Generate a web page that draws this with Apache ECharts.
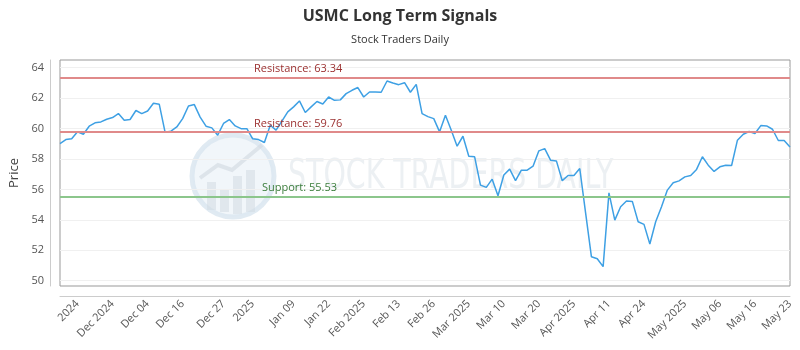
<!DOCTYPE html>
<html>
<head>
<meta charset="utf-8">
<script src="https://cdn.jsdelivr.net/npm/echarts@6/dist/echarts.min.js"></script>
<style>
  html, body { margin: 0; padding: 0; background: #fff; }
  #chart { width: 800px; height: 350px; }
</style>
</head>
<body>
<div id="chart"></div>
<script>
const dates = [
  "2024-11-20","2024-11-21","2024-11-22","2024-11-25","2024-11-26","2024-11-27","2024-11-29",
  "2024-12-02","2024-12-03","2024-12-04","2024-12-05","2024-12-06","2024-12-09","2024-12-10","2024-12-11","2024-12-12","2024-12-13",
  "2024-12-16","2024-12-17","2024-12-18","2024-12-19","2024-12-20","2024-12-23","2024-12-24","2024-12-26","2024-12-27","2024-12-30","2024-12-31",
  "2025-01-02","2025-01-03","2025-01-06","2025-01-07","2025-01-08","2025-01-10","2025-01-13","2025-01-14","2025-01-15","2025-01-16","2025-01-17",
  "2025-01-21","2025-01-22","2025-01-23","2025-01-24","2025-01-27","2025-01-28","2025-01-29","2025-01-30","2025-01-31",
  "2025-02-03","2025-02-04","2025-02-05","2025-02-06","2025-02-07","2025-02-10","2025-02-11","2025-02-12","2025-02-13","2025-02-14",
  "2025-02-18","2025-02-19","2025-02-20","2025-02-21","2025-02-24","2025-02-25","2025-02-26","2025-02-27","2025-02-28",
  "2025-03-03","2025-03-04","2025-03-05","2025-03-06","2025-03-07","2025-03-10","2025-03-11","2025-03-12","2025-03-13","2025-03-14",
  "2025-03-17","2025-03-18","2025-03-19","2025-03-20","2025-03-21","2025-03-24","2025-03-25","2025-03-26","2025-03-27","2025-03-28","2025-03-31",
  "2025-04-01","2025-04-02","2025-04-03","2025-04-04","2025-04-07","2025-04-08","2025-04-09","2025-04-10","2025-04-11",
  "2025-04-14","2025-04-15","2025-04-16","2025-04-17","2025-04-21","2025-04-22","2025-04-23","2025-04-24","2025-04-25",
  "2025-04-28","2025-04-29","2025-04-30","2025-05-01","2025-05-02","2025-05-05","2025-05-06","2025-05-07","2025-05-08","2025-05-09",
  "2025-05-12","2025-05-13","2025-05-14","2025-05-15","2025-05-16","2025-05-19","2025-05-20","2025-05-21","2025-05-22","2025-05-23"
];

const prices = [
  59.01, 59.27, 59.32, 59.78, 59.62, 60.15, 60.37, 60.43, 60.61, 60.72,
  60.98, 60.54, 60.59, 61.18, 60.98, 61.15, 61.66, 61.59, 59.75, 59.82,
  60.10, 60.65, 61.48, 61.57, 60.75, 60.15, 60.04, 59.56, 60.33, 60.59,
  60.17, 59.99, 59.99, 59.32, 59.27, 59.08, 60.21, 59.89, 60.48, 61.09,
  61.42, 61.81, 61.05, 61.42, 61.77, 61.61, 62.07, 61.85, 61.88, 62.29,
  62.51, 62.69, 62.07, 62.40, 62.40, 62.38, 63.12, 62.99, 62.88, 63.01,
  62.38, 62.90, 60.98, 60.78, 60.65, 59.78, 60.87, 59.89, 58.84, 59.49,
  58.18, 58.14, 56.28, 56.13, 56.67, 55.58, 56.94, 57.33, 56.57, 57.26,
  57.26, 57.52, 58.53, 58.68, 57.92, 57.87, 56.57, 56.91, 56.91, 57.37,
  54.45, 51.57, 51.44, 50.92, 55.77, 53.98, 54.86, 55.23, 55.21, 53.87,
  53.70, 52.41, 53.87, 54.86, 55.95, 56.43, 56.56, 56.82, 56.91, 57.31,
  58.14, 57.59, 57.18, 57.48, 57.59, 57.57, 59.23, 59.62, 59.80, 59.67,
  60.19, 60.17, 59.95, 59.21, 59.21, 58.79
];

const tickIndex = [3, 9, 15, 21, 28, 33, 40, 46, 52, 58, 64, 70, 76, 82, 88, 94, 100, 107, 113, 119, 125];
const tickText = ["2024", "Dec 2024", "Dec 04", "Dec 16", "Dec 27", "2025", "Jan 09", "Jan 22", "Feb 2025", "Feb 13",
  "Feb 26", "Mar 2025", "Mar 10", "Mar 20", "Apr 2025", "Apr 11", "Apr 24", "May 2025", "May 06", "May 16", "May 23"];

const yTicks = [50, 52, 54, 56, 58, 60, 62, 64];
const resistanceHigh = 63.34;
const resistanceLow = 59.76;
const support = 55.53;

const chart = echarts.init(document.getElementById('chart'), null, { renderer: 'canvas' });
const FONT = 'Open Sans';

const option = {
  animation: false,
  backgroundColor: '#ffffff',
  title: {
    text: 'USMC Long Term Signals',
    subtext: 'Stock Traders Daily',
    left: 'center',
    top: 3,
    itemGap: 10,
    textStyle: { fontFamily: FONT, fontSize: 16, fontWeight: 'bold', color: '#333333' },
    subtextStyle: { fontFamily: FONT, fontSize: 11, color: '#333333' }
  },
  grid: {
    left: 60, right: 10, top: 60, bottom: 64,
    outerBoundsMode: 'none',
    containLabel: false,
    show: true, borderColor: '#999999', borderWidth: 1, backgroundColor: 'transparent'
  },
  graphic: [
    {
      type: 'group', z: 0, silent: true,
      children: [
        { type: 'circle', shape: { cx: 233, cy: 176, r: 41 },
          style: { fill: 'rgba(228,238,245,0.5)', stroke: 'rgba(218,230,240,0.85)', lineWidth: 5 } },
        { type: 'rect', shape: { x: 207, y: 182, width: 9, height: 28 }, style: { fill: 'rgba(210,218,226,0.55)' } },
        { type: 'rect', shape: { x: 220, y: 190, width: 9, height: 22 }, style: { fill: 'rgba(210,218,226,0.55)' } },
        { type: 'rect', shape: { x: 233, y: 176, width: 9, height: 38 }, style: { fill: 'rgba(210,218,226,0.55)' } },
        { type: 'rect', shape: { x: 246, y: 170, width: 9, height: 42 }, style: { fill: 'rgba(210,218,226,0.55)' } },
        { type: 'polyline', shape: { points: [[200, 178], [218, 165], [232, 170], [262, 145]] },
          style: { stroke: 'rgba(210,218,226,0.65)', lineWidth: 4, fill: null } },
        { type: 'text', x: 288, y: 178,
          style: { text: 'STOCK TRADERS DAILY', fontFamily: 'DejaVu Sans Condensed', fontSize: 40,
                   fill: 'rgba(218,225,232,0.5)', textVerticalAlign: 'middle', textAlign: 'left' },
          scaleX: 0.79 }
      ]
    }
  ],
  xAxis: {
    type: 'category',
    data: dates,
    boundaryGap: false,
    offset: 10,
    axisLine: { show: true, lineStyle: { color: '#cccccc', width: 1 } },
    axisTick: { show: false },
    splitLine: { show: false },
    axisLabel: {
      interval: (idx) => tickIndex.indexOf(idx) >= 0,
      formatter: (val, idx) => { const k = tickIndex.indexOf(idx); return k >= 0 ? tickText[k] : ''; },
      rotate: 45,
      hideOverlap: false,
      fontFamily: FONT, fontSize: 11, color: '#555555', margin: 6
    }
  },
  yAxis: {
    type: 'value',
    min: 49.65,
    max: 64.5,
    offset: 10,
    name: 'Price',
    nameLocation: 'middle',
    nameGap: 27,
    nameTextStyle: { fontFamily: FONT, fontSize: 13, color: '#444444' },
    axisLine: { show: true, lineStyle: { color: '#cccccc', width: 1 } },
    axisTick: { show: false, customValues: yTicks },
    axisLabel: { customValues: yTicks, fontFamily: FONT, fontSize: 11, color: '#555555', margin: 6 },
    splitLine: { show: true, lineStyle: { color: '#f0f0f0', width: 1 } }
  },
  series: [
    {
      type: 'line',
      data: prices,
      symbol: 'none',
      z: 3,
      lineStyle: { color: '#3ea0e4', width: 1.5 },
      markLine: {
        silent: true,
        symbol: 'none',
        animation: false,
        data: [
          { yAxis: resistanceHigh, lineStyle: { color: '#e08a8a', width: 2, type: 'solid' },
            label: { formatter: 'Resistance: ' + resistanceHigh, color: '#9b2f2f', padding: [0, 0, 0, 191] } },
          { yAxis: resistanceLow, lineStyle: { color: '#e08a8a', width: 2, type: 'solid' },
            label: { formatter: 'Resistance: ' + resistanceLow, color: '#9b2f2f', padding: [0, 0, 0, 191] } },
          { yAxis: support, lineStyle: { color: '#8cc68c', width: 2, type: 'solid' },
            label: { formatter: 'Support: ' + support, color: '#3b7d3b', padding: [0, 0, 0, 199] } }
        ],
        label: { show: true, position: 'insideStartTop', fontFamily: FONT, fontSize: 11, distance: 3 }
      }
    }
  ]
};
chart.setOption(option);
</script>
</body>
</html>
